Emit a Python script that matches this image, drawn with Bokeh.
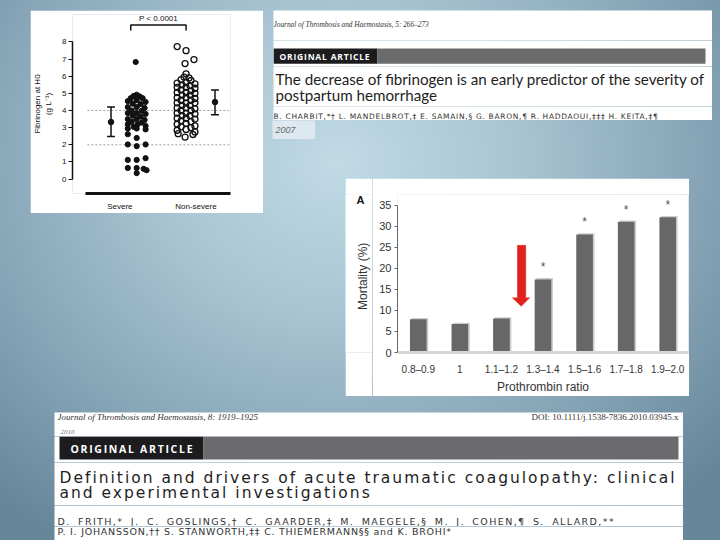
import math
from bokeh.plotting import figure
from bokeh.models import Range1d, FixedTicker, Spacer
from bokeh.layouts import row, column
from bokeh.core.properties import value
from bokeh.embed import file_html
from bokeh.resources import INLINE

# ---------------- data: fibrinogen scatter (2007 study) ----------------
groups = ["Severe", "Non-severe"]
severe_offset_px = [-1, 0, -9, 0, 7, 10, -9, 0, 9, -9, 0, 9, -9, 0,
                    0, -3, 3, -6, 6, -9, 0, 9, -4, 4, -9, 0, 8, -5, 5, -9, 0, 9,
                    -4, 4, -9, 0, 8, -5, 5, -9, 1, 9, -9, 0, 9, -3]
severe_fib = [6.83, 0.35, 0.65, 0.65, 0.6, 0.52, 1.12, 1.12, 1.22, 2.02, 1.92, 2.02, 2.62, 2.4,
              4.92, 4.85, 4.82, 4.72, 4.72, 4.55, 4.6, 4.5, 4.4, 4.38, 4.2, 4.2, 4.15, 4.0, 3.98, 3.85, 3.85, 3.8,
              3.7, 3.65, 3.5, 3.5, 3.45, 3.35, 3.3, 3.2, 3.2, 3.1, 2.95, 2.95, 2.9, 3.05]
nonsevere_offset_px = [-9, 0, 8, -1, 0,
                       -2, 3, -5, 5, -9, 0, 9, -4, 4, -9, 0, 9, -5, 5, -9, 0, 9, -4, 4,
                       -9, 0, 9, -5, 5, -9, 0, 9, -4, 4, -9, 0, 9, -5, 5, -9, 0, 9,
                       -4, 4, -9, 0, 9, -5, 5, -9, 0, 9, -5, 5, -9, 0, 9, -8, 7, -1]
nonsevere_fib = [7.73, 7.49, 6.97, 6.74, 6.14,
                 5.95, 5.9, 5.8, 5.75, 5.6, 5.65, 5.55, 5.5, 5.45, 5.35, 5.35, 5.3, 5.2, 5.15, 5.05, 5.05, 5.0, 4.9, 4.9,
                 4.75, 4.75, 4.7, 4.6, 4.6, 4.45, 4.45, 4.45, 4.3, 4.3, 4.15, 4.15, 4.1, 4.0, 4.0, 3.85, 3.85, 3.8,
                 3.7, 3.7, 3.55, 3.55, 3.5, 3.4, 3.35, 3.2, 3.25, 3.1, 3.05, 3.0, 2.85, 2.9, 2.75, 2.65, 2.6, 2.45]
group_mean = [3.33, 4.49]
group_low = [2.49, 3.75]
group_high = [4.21, 5.2]
fib_ticks = [0, 1, 2, 3, 4, 5, 6, 7, 8]
fib_reference_lines = [4, 2]
p_value_text = "P < 0.0001"

# ---------------- data: mortality vs prothrombin ratio ----------------
ratio_cats = ["0.8\u20130.9", "1", "1.1\u20131.2", "1.3\u20131.4", "1.5\u20131.6", "1.7\u20131.8", "1.9\u20132.0"]
mortality = [7.9, 6.8, 8.1, 17.4, 28.1, 31.1, 32.2]
significant = [False, False, False, True, True, True, True]
mort_ticks = [0, 5, 10, 15, 20, 25, 30, 35]
mort_axis_title = "Mortality (%)"
panel_letter = "A"

# ---------------- text of the article headers ----------------
art1_journal = "Journal of Thrombosis and Haemostasis, 5: 266\u2013273"
art1_title = ["The decrease of fibrinogen is an early predictor of the severity of",
              "postpartum  hemorrhage"]
art1_authors = "B. CHARBIT,*\u2020 L. MANDELBROT,\u2021 E. SAMAIN,\u00a7 G. BARON,\u00b6 R. HADDAOUI,\u2021\u2021\u2021 H. KEITA,\u2021\u00b6"
art1_year = "2007"
art2_journal = "Journal of Thrombosis and Haemostasis, 8: 1919\u20131925"
art2_doi = "DOI: 10.1111/j.1538-7836.2010.03945.x"
art2_year = "2010"
art2_title = ["Definition and drivers of acute traumatic coagulopathy: clinical",
              "and experimental investigations"]
art2_authors = ["D. FRITH,* J. C. GOSLINGS,\u2020 C. GAARDER,\u2021 M. MAEGELE,\u00a7 M. J. COHEN,\u00b6 S. ALLARD,**",
                "P. I. JOHANSSON,\u2020\u2020 S. STANWORTH,\u2021\u2021 C. THIEMERMANN\u00a7\u00a7 and K. BROHI*"]
banner = "ORIGINAL ARTICLE"

GRADIENT = ("radial-gradient(ellipse 72% 82% at 47% 30%, #c0dae6 0%, #a8c4d2 35%, "
            "#88a6b8 68%, #68869a 100%)")
SANS = "Liberation Sans"


def put(f, x, y, s, font, size, color="#222222", style="normal", align="left",
        baseline="middle", angle=0.0):
    f.text(x=[x], y=[y], text=[s], text_font=value(font), text_font_size=f"{size}px",
           text_font_style=style, text_color=color, text_align=align, text_baseline=baseline,
           angle=angle)


def text_fig(w, h, bg="white", spacing=None, word_spacing=None, top=0, bottom=0):
    st = {}
    if spacing is not None:
        st["letter-spacing"] = spacing
    if word_spacing is not None:
        st["word-spacing"] = word_spacing
    kw = {"styles": st} if st else {}
    f = figure(width=w, height=h, x_range=Range1d(0, w), y_range=Range1d(h - bottom, top),
               output_backend="svg", toolbar_location=None, title=None,
               x_axis_location=None, y_axis_location=None,
               min_border=0, min_border_top=top, min_border_bottom=bottom,
               background_fill_color=bg, border_fill_color=bg,
               outline_line_color=None, **kw)
    f.grid.visible = False
    return f


# ======================= scatter panel =======================
PX = 50.0
sc = figure(width=233, height=203, x_range=Range1d(-0.3, 2.9), y_range=Range1d(-0.84, 9.6),
            output_backend="svg", toolbar_location=None, title=None,
            min_border_left=40, min_border_right=33, min_border_top=4, min_border_bottom=13,
            background_fill_color="white", border_fill_color="white", outline_line_color=None)
sc.grid.visible = False
centers = [i + 1 for i in range(len(groups))]

for yref in fib_reference_lines:
    sc.segment(x0=[0.0], x1=[2.9], y0=[yref], y1=[yref], line_color="#8c8c8c",
               line_width=0.8, line_dash="2 2")

sev_x = [centers[0] + o / PX for o in severe_offset_px]
non_x = [centers[1] + o / PX for o in nonsevere_offset_px]
sc.scatter(x=sev_x, y=severe_fib, size=5.2, fill_color="#111111", line_color="#111111")
sc.scatter(x=non_x, y=nonsevere_fib, size=6, fill_color=None, line_color="#111111", line_width=1.3)

err_x = [centers[0] - 0.52, centers[1] + 0.586]
cap = 0.08
sc.segment(x0=err_x, x1=err_x, y0=group_low, y1=group_high, line_color="#111111", line_width=1.5)
sc.segment(x0=[x - cap for x in err_x] * 2, x1=[x + cap for x in err_x] * 2,
           y0=group_low + group_high, y1=group_low + group_high, line_color="#111111", line_width=1.5)
sc.scatter(x=err_x, y=group_mean, size=5.5, fill_color="#111111", line_color="#111111")

# significance bracket
bx0, bx1, by_top, by_low = 0.88, 2.0, 8.99, 8.67
sc.multi_line(xs=[[bx0, bx0, bx1, bx1]], ys=[[by_low, by_top, by_top, by_low]],
              line_color="#111111", line_width=1.5)
sc.text(x=[1.44], y=[9.38], text=[p_value_text], text_font=value(SANS), text_font_size="8px",
        text_align="center", text_baseline="middle", text_color="#111111")

sc.yaxis.bounds = (0, 8)
sc.yaxis.ticker = FixedTicker(ticks=fib_ticks)
sc.yaxis.minor_tick_line_color = None
sc.yaxis.major_tick_out = 4
sc.yaxis.major_tick_in = 0
sc.yaxis.axis_line_width = 1.5
sc.yaxis.axis_line_color = "#111111"
sc.yaxis.major_tick_line_color = "#111111"
sc.yaxis.major_label_text_font = SANS
sc.yaxis.major_label_text_font_size = "8px"
sc.yaxis.major_label_text_color = "#111111"
sc.yaxis.major_label_standoff = 2
sc.yaxis.axis_label = "Fibrinogen at H0\n(g L\u207b\u00b9)"
sc.yaxis.axis_label_text_font = SANS
sc.yaxis.axis_label_text_font_size = "8px"
sc.yaxis.axis_label_text_font_style = "normal"
sc.yaxis.axis_label_text_color = "#111111"
sc.yaxis.axis_label_standoff = 6

label_pos = [0.66, 2.2]
sc.xaxis.bounds = (-0.04, 2.9)
sc.xaxis.ticker = FixedTicker(ticks=label_pos)
sc.xaxis.major_label_overrides = {p: g for p, g in zip(label_pos, groups)}
sc.xaxis.major_tick_line_color = None
sc.xaxis.minor_tick_line_color = None
sc.xaxis.axis_line_width = 3
sc.xaxis.axis_line_color = "#111111"
sc.xaxis.major_label_text_font = SANS
sc.xaxis.major_label_text_font_size = "8px"
sc.xaxis.major_label_text_color = "#111111"
sc.xaxis.major_label_standoff = 2

# ======================= bar panel (x 345-689, y 178-396) =======================
BAR_TOP, BAR_BOTTOM = 16, 34
# left strip of the panel: panel letter and the y-axis title (frame aligned with the bar plot)
bpl = text_fig(27, 218, top=BAR_TOP, bottom=BAR_BOTTOM)
put(bpl, 15, 22, panel_letter, SANS, 11, "#111111", "bold", align="center")
put(bpl, 17, 103, mort_axis_title, SANS, 12, "#333333", align="center", angle=math.pi / 2)

bp = figure(width=317, height=218, x_range=Range1d(-0.5, 6.5), y_range=Range1d(0, 37.6),
            output_backend="svg", toolbar_location=None, title=None,
            min_border_left=25, min_border_right=1, min_border_top=BAR_TOP, min_border_bottom=BAR_BOTTOM,
            background_fill_color="white", border_fill_color="white", outline_line_color=None)
bp.grid.visible = False
idx = list(range(len(ratio_cats)))
bp.vbar(x=[i + 0.04 for i in idx], top=[m + 0.3 for m in mortality], width=0.4,
        fill_color="#cdcdcd", line_color=None)
bp.vbar(x=idx, top=mortality, width=0.4, fill_color="#676767", line_color=None)
star_x = [i for i, s in zip(idx, significant) if s]
star_y = [m + 2.9 for m, s in zip(mortality, significant) if s]
bp.text(x=star_x, y=star_y, text=["*"] * len(star_x), text_font=value(SANS), text_font_size="12px",
        text_align="center", text_baseline="middle", text_color="#555555")

# red arrow pointing at the 1.3-1.4 bar
ax = [2.385, 2.585, 2.585, 2.68, 2.475, 2.265, 2.385]
ay = [25.5, 25.5, 13.0, 13.0, 11.0, 13.0, 13.0]
bp.patch(x=ax, y=ay, fill_color="#e3211c", line_color="#e3211c", line_width=0.5)

bp.xaxis.ticker = FixedTicker(ticks=idx)
bp.xaxis.major_label_overrides = {i: c for i, c in zip(idx, ratio_cats)}
bp.xaxis.major_tick_line_color = None
bp.xaxis.minor_tick_line_color = None
bp.xaxis.axis_line_color = "#d6d6d6"
bp.xaxis.axis_line_width = 3
bp.xaxis.major_label_text_font = SANS
bp.xaxis.major_label_text_font_size = "10px"
bp.xaxis.major_label_text_color = "#333333"
bp.xaxis.major_label_standoff = 5
bp.xaxis.axis_label = "Prothrombin ratio"
bp.xaxis.axis_label_text_font = SANS
bp.xaxis.axis_label_text_font_size = "12px"
bp.xaxis.axis_label_text_font_style = "normal"
bp.xaxis.axis_label_text_color = "#333333"
bp.xaxis.axis_label_standoff = 2

bp.yaxis.bounds = (0, 35)
bp.yaxis.ticker = FixedTicker(ticks=mort_ticks)
bp.yaxis.minor_tick_line_color = None
bp.yaxis.major_tick_out = 3
bp.yaxis.major_tick_in = 0
bp.yaxis.axis_line_color = "#666666"
bp.yaxis.major_tick_line_color = "#666666"
bp.yaxis.major_label_text_font = SANS
bp.yaxis.major_label_text_font_size = "11px"
bp.yaxis.major_label_text_color = "#333333"
bp.yaxis.major_label_standoff = 3

# ======================= article 1 header (x 273-712, y 10-120) =======================
a1a = text_fig(439, 30)                      # y 10-40
put(a1a, 0, 14, art1_journal, "Liberation Serif", 7.3, "#333333", "italic")
a1b = text_fig(439, 26, spacing="0.8px")     # y 40-66
a1b.quad(left=[0], right=[104], top=[8], bottom=[23.3], fill_color="#1c1c1e", line_color=None)
a1b.quad(left=[104], right=[432], top=[8], bottom=[23.3], fill_color="#6b6b6d", line_color=None)
put(a1b, 6, 15.7, banner, "Open Sans", 8.5, "white", "bold")
a1c = text_fig(439, 40)                      # y 66-106
put(a1c, 2, 12.7, art1_title[0], "Lato", 15.2, "#1e1e1e")
put(a1c, 2, 28.0, art1_title[1], "Lato", 15.2, "#1e1e1e")
a1d = text_fig(439, 14, spacing="0.7px")     # y 106-120
put(a1d, 0, 10, art1_authors, "DejaVu Sans", 7.5, "#333333")
a1 = column(a1a, a1b, a1c, a1d)

yr = text_fig(43, 19, "#dde9ef")
put(yr, 3, 9.5, art1_year, SANS, 9, "#6a6a6a", "italic")

# ======================= article 2 header (x 54-683, y 412-540) =======================
a2a = text_fig(629, 24)                      # y 412-436
put(a2a, 3, 4.8, art2_journal, "Liberation Serif", 9, "#333333", "italic")
put(a2a, 624, 4.8, art2_doi, "Liberation Serif", 9, "#333333", align="right")
put(a2a, 6, 19, art2_year, "Liberation Serif", 7, "#777777", "italic")
a2b = text_fig(629, 26, spacing="1.7px")     # y 436-462
a2b.quad(left=[5], right=[149], top=[0], bottom=[23], fill_color="#1c1c1e", line_color=None)
a2b.quad(left=[149], right=[624], top=[0], bottom=[23], fill_color="#6b6b6d", line_color=None)
put(a2b, 16, 12, banner, "Open Sans", 10.5, "white", "bold")
a2c = text_fig(629, 43, spacing="2px")       # y 462-505
put(a2c, 5, 15.3, art2_title[0], "DejaVu Sans", 15.5, "#1e1e1e")
put(a2c, 5, 30.0, art2_title[1], "DejaVu Sans", 15.5, "#1e1e1e")
# first author line is justified (wider word gaps), the last line is not
a2d1 = text_fig(629, 21, spacing="1.4px", word_spacing="3px")     # y 505-526
put(a2d1, 3, 15.7, art2_authors[0], "DejaVu Sans", 9.5, "#333333")
a2d2 = text_fig(629, 14, spacing="0.75px")   # y 526-540
put(a2d2, 3, 5.2, art2_authors[1], "DejaVu Sans", 9.5, "#333333")
a2 = column(a2a, a2b, a2c, a2d1, a2d2)

# ======================= page layout (720 x 540) =======================
left_col = column(Spacer(width=268, height=10),
                  row(Spacer(width=30, height=203), sc, Spacer(width=5, height=203)),
                  Spacer(width=268, height=199))
right_col = column(Spacer(width=452, height=10),
                   row(Spacer(width=5, height=110), a1, Spacer(width=8, height=110)),
                   row(Spacer(width=4, height=19), yr, Spacer(width=405, height=19)),
                   Spacer(width=452, height=39),
                   row(Spacer(width=77, height=218), bpl, bp, Spacer(width=31, height=218)),
                   Spacer(width=452, height=16))
top = row(left_col, right_col)
bottom = row(Spacer(width=54, height=128), a2, Spacer(width=37, height=128))
page = column(top, bottom, styles={"background": GRADIENT})

open("out.html", "w").write(file_html(page, INLINE, title="Fibrinogen and coagulopathy"))
